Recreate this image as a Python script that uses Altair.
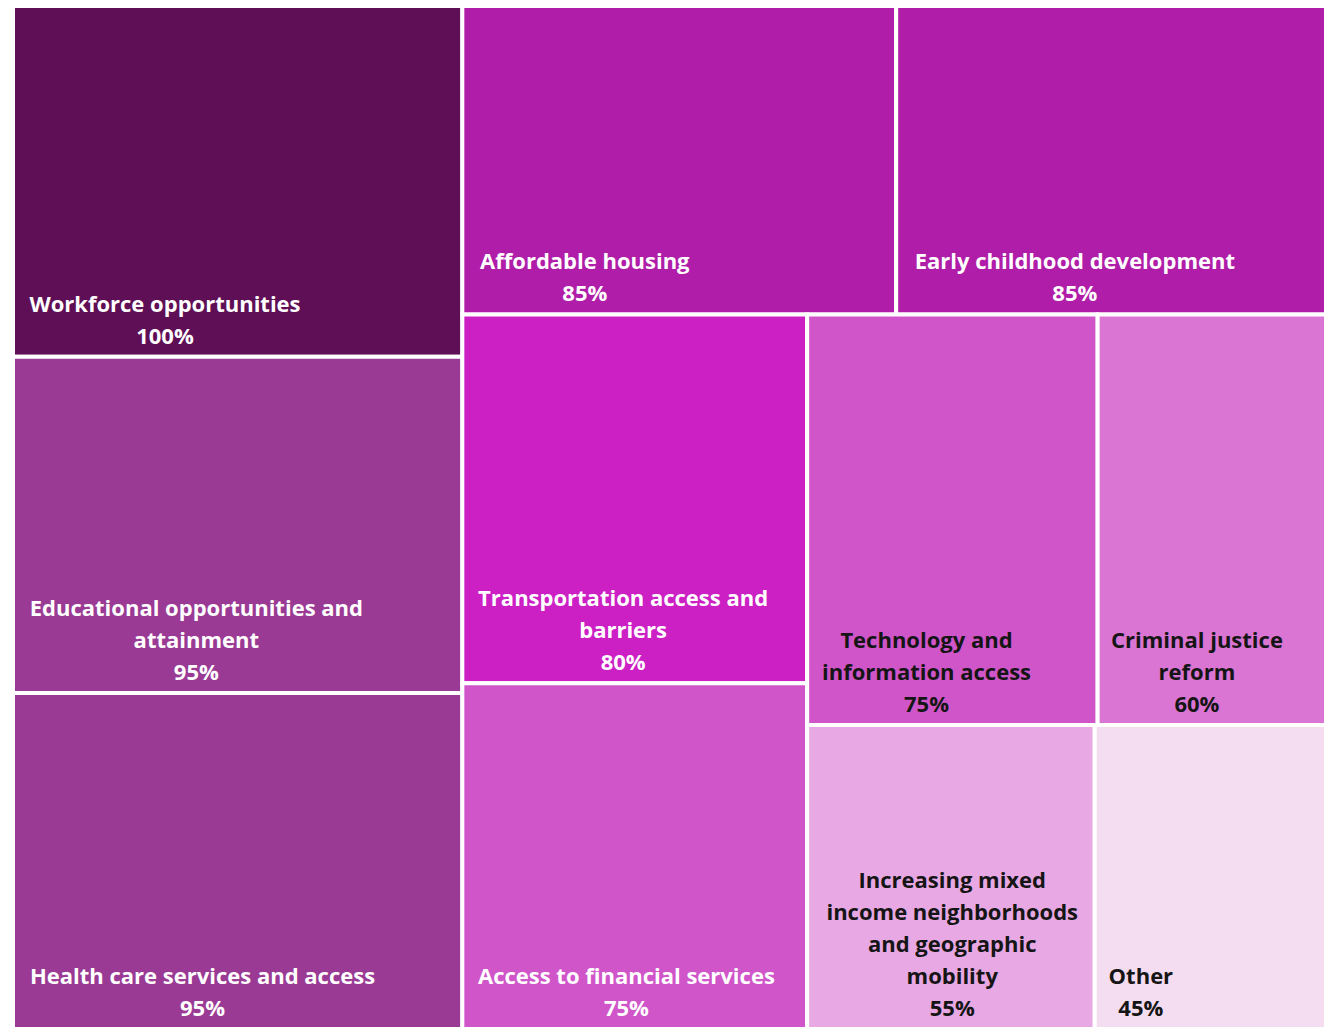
import altair as alt
import pandas as pd

categories = [
    "Workforce opportunities",
    "Educational opportunities and attainment",
    "Health care services and access",
    "Affordable housing",
    "Early childhood development",
    "Transportation access and barriers",
    "Access to financial services",
    "Technology and information access",
    "Criminal justice reform",
    "Increasing mixed income neighborhoods and geographic mobility",
    "Other",
]
values = [100, 95, 95, 85, 85, 80, 75, 75, 60, 55, 45]
label_lines = [
    ["Workforce opportunities"],
    ["Educational opportunities and", "attainment"],
    ["Health care services and access"],
    ["Affordable housing"],
    ["Early childhood development"],
    ["Transportation access and", "barriers"],
    ["Access to financial services"],
    ["Technology and", "information access"],
    ["Criminal justice", "reform"],
    ["Increasing mixed", "income neighborhoods", "and geographic", "mobility"],
    ["Other"],
]
fill_colors = ["#5F0F55", "#9A3A94", "#9A3A94", "#B01DA8", "#B01DA8", "#CC20C5",
               "#D055C9", "#D055C9", "#DA75D4", "#E8A8E3", "#F4DDF1"]
text_colors = ["white", "white", "white", "white", "white", "white",
               "white", "#151515", "#151515", "#151515", "#151515"]

W, H = 1317, 1026
FONT_SIZE = 22
WIDTH_EM = 25.2   # em size used to estimate label block widths
PAD = 14
LINE_H = 32
BOTTOM_GAP = 13

CHAR_EM = {
    "a": .52, "c": .46, "e": .54, "s": .43, "g": .6, "o": .58, "p": .6, "d": .6,
    "b": .6, "h": .58, "n": .58, "u": .58, "q": .6, "k": .5, "v": .5, "y": .5,
    "x": .5, "z": .45, "r": .36, "f": .34, "t": .35, "i": .24, "l": .24, "j": .24,
    "m": .88, "w": .8, " ": .27, "W": .93, "E": .5, "A": .63, "T": .52, "C": .6,
    "H": .7, "O": .72, "I": .27, "%": .8,
}


def char_w(c):
    if c in CHAR_EM:
        return CHAR_EM[c]
    if c.isdigit():
        return 0.55
    return 0.6


def text_w(s):
    return sum(char_w(c) for c in s) * WIDTH_EM


def worst(row, side):
    s = sum(row)
    return max(max(side * side * r / (s * s), (s * s) / (side * side * r)) for r in row)


def squarify(areas, x, y, w, h):
    rects = []
    areas = list(areas)
    while areas:
        side = min(w, h)
        row = [areas[0]]
        i = 1
        while i < len(areas) and worst(row + [areas[i]], side) <= worst(row, side):
            row.append(areas[i])
            i += 1
        s = sum(row)
        if w >= h:
            cw = s / h
            yy = y
            for a in row:
                rh = a / cw
                rects.append((x, yy, x + cw, yy + rh))
                yy += rh
            x += cw
            w -= cw
        else:
            rh = s / w
            xx = x
            for a in row:
                rw = a / rh
                rects.append((xx, y, xx + rw, y + rh))
                xx += rw
            y += rh
            h -= rh
        areas = areas[i:]
    return rects


total = sum(values)
areas = [v / total * W * H for v in values]
rects = squarify(areas, 0, 0, W, H)

rows = []
for cat, v, lines, r, tc in zip(categories, values, label_lines, rects, text_colors):
    x0, y0, x1, y1 = r
    label = lines + [f"{v}%"]
    block_w = max(text_w(l) for l in label)
    rows.append({
        "category": cat,
        "value": v,
        "label": label,
        "x0": x0, "x1": x1, "y0": y0, "y1": y1,
        "cx": x0 + PAD + block_w / 2,
        "ty": y1 - BOTTOM_GAP - (len(label) - 1) * LINE_H,
        "tc": tc,
    })
df = pd.DataFrame(rows)

xs = alt.Scale(domain=[0, W], range=[5, 5 + W], nice=False, zero=False)
ys = alt.Scale(domain=[0, H], range=[-5, -5 + H], nice=False, zero=False)

rect = alt.Chart(df).mark_rect(stroke="white", strokeWidth=4).encode(
    x=alt.X("x0:Q", scale=xs, axis=None),
    x2="x1:Q",
    y=alt.Y("y0:Q", scale=ys, axis=None),
    y2="y1:Q",
    color=alt.Color("category:N", scale=alt.Scale(domain=categories, range=fill_colors), legend=None),
)

text = alt.Chart(df).mark_text(
    align="center", baseline="alphabetic", fontSize=FONT_SIZE, fontWeight="bold",
    font="Open Sans", lineHeight=LINE_H,
).encode(
    x=alt.X("cx:Q", scale=xs, axis=None),
    y=alt.Y("ty:Q", scale=ys, axis=None),
    text="label",
    color=alt.Color("tc:N", scale=None),
)

chart = (rect + text).properties(
    width=1316, height=1021,
    autosize=alt.AutoSizeParams(type="none"),
    padding=0,
).configure_view(stroke=None)

chart.save("out.html", embed_options={"renderer": "svg", "actions": False})
